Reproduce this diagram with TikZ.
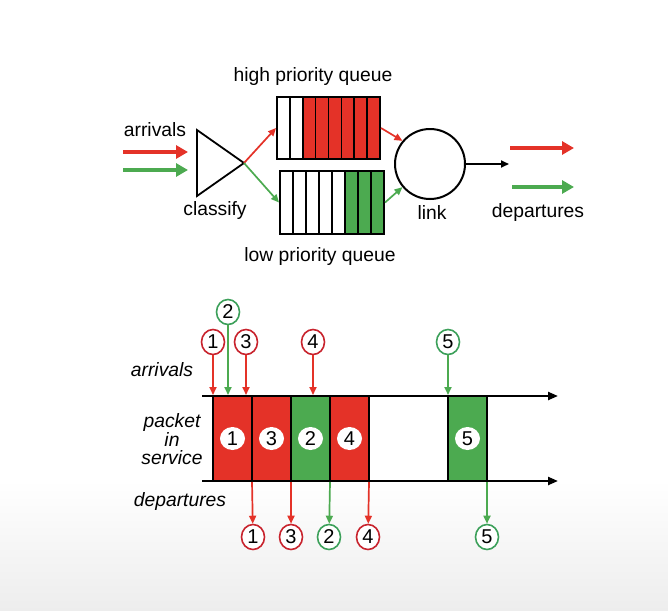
\documentclass[tikz,border=0pt]{standalone}
\usepackage{fontspec}
\setmainfont{Liberation Sans}
\usetikzlibrary{arrows.meta,shapes.geometric}
\definecolor{qred}{RGB}{228,50,40}
\definecolor{qgreen}{RGB}{76,170,80}
\definecolor{cred}{RGB}{200,35,45}
\definecolor{cgreen}{RGB}{60,160,90}
\begin{document}
\begin{tikzpicture}[x=1pt,y=-1pt,
  lbl/.style={inner sep=0pt, font=\fontsize{19.3}{21}\selectfont},
  ilbl/.style={inner sep=0pt, font=\fontsize{19.3}{17.5}\selectfont\itshape},
  num/.style={ellipse, draw, line width=1.6pt, minimum width=23pt, minimum height=25pt, inner sep=0pt, fill=white, font=\fontsize{20}{20}\selectfont},
  rnum/.style={num, draw=cred},
  gnum/.style={num, draw=cgreen},
  inum/.style={ellipse, fill=white, minimum width=25pt, minimum height=23pt, inner sep=0pt, font=\fontsize{20}{20}\selectfont},
  bigarrow/.style={line width=4pt, -{Triangle[length=12pt,width=13pt]}},
  thinarrow/.style={line width=1.7pt, -{Triangle[length=8pt,width=7pt]}},
  axis/.style={line width=2.2pt, -{Triangle[length=10pt,width=8pt]}},
  slot/.style={draw=black, line width=2pt, minimum width=39pt, minimum height=85pt, inner sep=0pt},
  queue/.style={draw=black, line width=2pt, inner sep=0pt}
]
% background
\fill[white] (0,0) rectangle (668,610);
\shade[top color=white, bottom color=black!7] (0,480) rectangle (668,610);
\useasboundingbox (0,0) rectangle (668,610);

% ---------- top part ----------
\node[lbl] (arrt) at (155,130) {arrivals};
\coordinate (ar1) at (123,152); \coordinate (ar2) at (188,152);
\coordinate (ag1) at (123,170); \coordinate (ag2) at (188,170);
\draw[bigarrow, qred] (ar1) -- (ar2);
\draw[bigarrow, qgreen] (ag1) -- (ag2);

\coordinate (tt) at (197,130);
\coordinate (apex) at (244,163);
\coordinate (tb) at (197,196);
\draw[line width=1.8pt, line join=miter] (tt) -- (apex) -- (tb) -- cycle;
\node[lbl] (cls) at (215,211) {classify};

% high priority queue
\foreach \i in {2,...,7} \fill[qred] (277+\i*12.875,97) rectangle (277+\i*12.875+12.875,159);
\foreach \i in {1,...,7} \draw[line width=1.6pt] (277+\i*12.875,97) -- (277+\i*12.875,159);
\node[queue, minimum width=103pt, minimum height=62pt] (hq) at (328.5,128) {};
\node[lbl] (hqt) at (313,77) {high priority queue};

% low priority queue
\foreach \i in {5,6,7} \fill[qgreen] (280+\i*13,171) rectangle (280+\i*13+13,234);
\foreach \i in {1,...,7} \draw[line width=1.6pt] (280+\i*13,171) -- (280+\i*13,234);
\node[queue, minimum width=104pt, minimum height=63pt] (lq) at (332,202.5) {};
\node[lbl] (lqt) at (320,257) {low priority queue};

\draw[thinarrow, qred] (apex) -- (hq.west);
\draw[thinarrow, qgreen] (apex) -- (lq.west);

% link
\node[circle, draw, line width=2pt, minimum size=70pt, inner sep=0pt] (link) at (430,164) {};
\node[lbl] (lkt) at (432,213) {link};
\draw[thinarrow, qred] (hq.east) -- (link.140);
\draw[thinarrow, qgreen] (lq.east) -- (link.220);
\coordinate (lout) at (509,164);
\draw[thinarrow, black] (link.east) -- (lout);

\coordinate (dr1) at (510,148); \coordinate (dr2) at (574,148);
\coordinate (dg1) at (512,187); \coordinate (dg2) at (574,187);
\draw[bigarrow, qred] (dr1) -- (dr2);
\draw[bigarrow, qgreen] (dg1) -- (dg2);
\node[lbl] (dept) at (538,213) {departures};

% ---------- bottom part ----------
\node[ilbl] (arrb) at (162,370) {arrivals};
\node[ilbl, align=center] (pis) at (172,439) {packet\\in\\service};
\node[ilbl] (depb) at (180,502) {departures};

% slots
\node[slot, fill=qred]   (s1) at (232.5,438.5) {};
\node[slot, fill=qred]   (s3) at (271.5,438.5) {};
\node[slot, fill=qgreen] (s2) at (310.5,438.5) {};
\node[slot, fill=qred]   (s4) at (349.5,438.5) {};
\node[slot, fill=qgreen] (s5) at (467.5,438.5) {};
\node[inum] at (s1) {1};
\node[inum] at (s3) {3};
\node[inum] at (s2) {2};
\node[inum] at (s4) {4};
\node[inum] at (s5) {5};

% axes
\coordinate (t0) at (202,396); \coordinate (t1) at (558,396);
\coordinate (b0) at (202,481); \coordinate (b1) at (558,481);
\draw[axis] (t0) -- (t1);
\draw[axis] (b0) -- (b1);

% arrivals
\node[rnum] (a1) at (213,342) {1};
\node[gnum] (a2) at (228,312) {2};
\node[rnum] (a3) at (246,342) {3};
\node[rnum] (a4) at (313,342) {4};
\node[gnum] (a5) at (448,342) {5};
\coordinate (ta1) at (213,395);
\coordinate (ta2) at (228,395);
\coordinate (ta3) at (246,395);
\coordinate (ta4) at (313,395);
\coordinate (ta5) at (448,395);
\draw[thinarrow, qred]   (a1) -- (ta1);
\draw[thinarrow, qgreen] (a2) -- (ta2);
\draw[thinarrow, qred]   (a3) -- (ta3);
\draw[thinarrow, qred]   (a4) -- (ta4);
\draw[thinarrow, qgreen] (a5) -- (ta5);

% departures
\node[rnum] (d1) at (253,537) {1};
\node[rnum] (d3) at (291,537) {3};
\node[gnum] (d2) at (329,537) {2};
\node[rnum] (d4) at (368,537) {4};
\node[gnum] (d5) at (487,537) {5};
\coordinate (fd1) at (252,482);
\coordinate (fd3) at (291,482);
\coordinate (fd2) at (330,482);
\coordinate (fd4) at (369,482);
\coordinate (fd5) at (487,482);
\draw[thinarrow, qred]   (fd1) -- (d1);
\draw[thinarrow, qred]   (fd3) -- (d3);
\draw[thinarrow, qgreen] (fd2) -- (d2);
\draw[thinarrow, qred]   (fd4) -- (d4);
\draw[thinarrow, qgreen] (fd5) -- (d5);
\end{tikzpicture}
\end{document}
